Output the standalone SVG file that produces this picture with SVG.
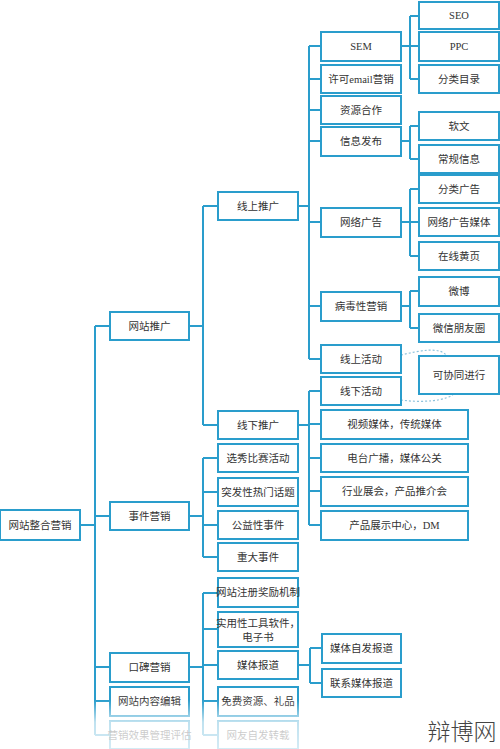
<svg xmlns="http://www.w3.org/2000/svg" width="500" height="749" viewBox="0 0 500 749">
<defs>
<style>
.b{fill:#fff;stroke:#2a9dcc;stroke-width:2}
.t{font-family:"Liberation Serif","Noto Sans CJK SC",sans-serif;font-size:10.5px;fill:#333;text-anchor:middle;dominant-baseline:central}
.c{fill:none;stroke:#2a9dcc;stroke-width:2}
.d{fill:none;stroke:#8fc3dc;stroke-width:1.2;stroke-dasharray:2 2}
</style>
<linearGradient id="fade" x1="0" y1="0" x2="0" y2="1">
<stop offset="0" stop-color="#fff" stop-opacity="0"/>
<stop offset="0.45" stop-color="#fff" stop-opacity="0.7"/>
<stop offset="1" stop-color="#fff" stop-opacity="0.8"/>
</linearGradient>
</defs>
<rect width="500" height="749" fill="#fff"/>
<g id="connectors">
<path class="c" d="M80,525H95M95,326V735M95,326H110M95,516H110M95,667H110M95,701H110M95,735H110"/>
<path class="c" d="M189,326H203M203,206V425M203,206H218M203,425H218"/>
<path class="c" d="M298,206H309M309,46V359M309,46H321M309,79H321M309,110H321M309,141H321M309,222H321M309,306H321M309,359H321"/>
<path class="c" d="M401,46H419M410,16V79M410,16H419M410,79H419"/>
<path class="c" d="M401,141H410M410,126V159M410,126H419M410,159H419"/>
<path class="c" d="M401,222H419M410,189V256M410,189H419M410,256H419"/>
<path class="c" d="M401,306H410M410,291V328M410,291H419M410,328H419"/>
<path class="c" d="M298,425H309M309,391V525M309,391H321M309,424H321M309,458H321M309,491H321M309,525H321"/>
<path class="c" d="M189,516H203M203,458V557M203,458H218M203,492H218M203,525H218M203,557H218"/>
<path class="c" d="M189,667H203M203,593V735M203,593H218M203,629H218M203,665H218M203,701H218M203,735H218"/>
<path class="c" d="M298,665H310M310,648V683M310,648H322M310,683H322"/>
<path class="d" d="M401,355C418,351 440,346 447,356"/>
<path class="d" d="M401,400C422,403 447,401 455,393"/>
</g>
<g id="n-root"><rect class="b" x="0" y="510" width="80" height="30"/><text class="t" x="40" y="525">网站整合营销</text></g>
<g id="n-wztg"><rect class="b" x="110" y="312" width="79" height="28"/><text class="t" x="149.5" y="326">网站推广</text></g>
<g id="n-sjyx"><rect class="b" x="110" y="502" width="79" height="28"/><text class="t" x="149.5" y="516">事件营销</text></g>
<g id="n-kbyx"><rect class="b" x="110" y="653" width="79" height="29"/><text class="t" x="149.5" y="667">口碑营销</text></g>
<g id="n-wznr"><rect class="b" x="110" y="687" width="79" height="29"/><text class="t" x="149.5" y="701">网站内容编辑</text></g>
<g id="n-yxxg"><rect class="b" x="110" y="721" width="79" height="28"/><text class="t" x="149.5" y="735">营销效果管理评估</text></g>
<g id="n-xstg"><rect class="b" x="218" y="192" width="80" height="28"/><text class="t" x="258" y="206">线上推广</text></g>
<g id="n-xxtg"><rect class="b" x="218" y="411" width="80" height="28"/><text class="t" x="258" y="425">线下推广</text></g>
<g id="n-sem"><rect class="b" x="321" y="32" width="80" height="29"/><text class="t" x="361" y="46.5">SEM</text></g>
<g id="n-email"><rect class="b" x="321" y="65" width="80" height="28"/><text class="t" x="361" y="79">许可email营销</text></g>
<g id="n-zyhz"><rect class="b" x="321" y="96" width="80" height="28"/><text class="t" x="361" y="110">资源合作</text></g>
<g id="n-xxfb"><rect class="b" x="321" y="127" width="80" height="29"/><text class="t" x="361" y="141.5">信息发布</text></g>
<g id="n-wlgg"><rect class="b" x="321" y="208" width="80" height="29"/><text class="t" x="361" y="222.5">网络广告</text></g>
<g id="n-bdx"><rect class="b" x="321" y="292" width="80" height="29"/><text class="t" x="361" y="306.5">病毒性营销</text></g>
<g id="n-xshd"><rect class="b" x="321" y="345" width="80" height="28"/><text class="t" x="361" y="359">线上活动</text></g>
<g id="n-xxhd"><rect class="b" x="321" y="377" width="80" height="28"/><text class="t" x="361" y="391">线下活动</text></g>
<g id="n-sp"><rect class="b" x="321" y="410" width="147" height="29"/><text class="t" x="394.5" y="424.5">视频媒体，传统媒体</text></g>
<g id="n-dt"><rect class="b" x="321" y="444" width="147" height="28"/><text class="t" x="394.5" y="458">电台广播，媒体公关</text></g>
<g id="n-hy"><rect class="b" x="321" y="477" width="147" height="29"/><text class="t" x="394.5" y="491.5">行业展会，产品推介会</text></g>
<g id="n-cp"><rect class="b" x="321" y="511" width="147" height="29"/><text class="t" x="394.5" y="525.5">产品展示中心，DM</text></g>
<g id="n-kxt"><rect class="b" x="419" y="356" width="80" height="38"/><text class="t" x="459" y="375">可协同进行</text></g>
<g id="n-seo"><rect class="b" x="419" y="2" width="80" height="27"/><text class="t" x="459" y="15.5">SEO</text></g>
<g id="n-ppc"><rect class="b" x="419" y="32" width="80" height="29"/><text class="t" x="459" y="46.5">PPC</text></g>
<g id="n-flml"><rect class="b" x="419" y="65" width="80" height="28"/><text class="t" x="459" y="79">分类目录</text></g>
<g id="n-rw"><rect class="b" x="419" y="112" width="80" height="28"/><text class="t" x="459" y="126">软文</text></g>
<g id="n-cgxx"><rect class="b" x="419" y="145" width="80" height="28"/><text class="t" x="459" y="159">常规信息</text></g>
<g id="n-flgg"><rect class="b" x="419" y="175" width="80" height="28"/><text class="t" x="459" y="189">分类广告</text></g>
<g id="n-wlggmt"><rect class="b" x="419" y="208" width="80" height="28"/><text class="t" x="459" y="222">网络广告媒体</text></g>
<g id="n-zxhy"><rect class="b" x="419" y="242" width="80" height="28"/><text class="t" x="459" y="256">在线黄页</text></g>
<g id="n-wb"><rect class="b" x="419" y="277" width="80" height="29"/><text class="t" x="459" y="291.5">微博</text></g>
<g id="n-wx"><rect class="b" x="419" y="314" width="80" height="28"/><text class="t" x="459" y="328">微信朋友圈</text></g>
<g id="n-xx"><rect class="b" x="218" y="444" width="80" height="28"/><text class="t" x="258" y="458">选秀比赛活动</text></g>
<g id="n-tf"><rect class="b" x="218" y="478" width="80" height="28"/><text class="t" x="258" y="492">突发性热门话题</text></g>
<g id="n-gy"><rect class="b" x="218" y="511" width="80" height="28"/><text class="t" x="258" y="525">公益性事件</text></g>
<g id="n-zd"><rect class="b" x="218" y="543" width="80" height="28"/><text class="t" x="258" y="557">重大事件</text></g>
<g id="n-zc"><rect class="b" x="218" y="578" width="80" height="29"/><text class="t" x="258" y="592.5">网站注册奖励机制</text></g>
<g id="n-sy"><rect class="b" x="218" y="612" width="80" height="35"/><text class="t" x="258" y="623">实用性工具软件，</text><text class="t" x="258" y="637">电子书</text></g>
<g id="n-mtbd"><rect class="b" x="218" y="651" width="80" height="28"/><text class="t" x="258" y="665">媒体报道</text></g>
<g id="n-mf"><rect class="b" x="218" y="687" width="80" height="29"/><text class="t" x="258" y="701">免费资源、礼品</text></g>
<g id="n-wy"><rect class="b" x="218" y="721" width="80" height="28"/><text class="t" x="258" y="735">网友自发转载</text></g>
<g id="n-zf"><rect class="b" x="322" y="634" width="79" height="29"/><text class="t" x="361.5" y="648.5">媒体自发报道</text></g>
<g id="n-lx"><rect class="b" x="322" y="669" width="79" height="28"/><text class="t" x="361.5" y="683">联系媒体报道</text></g>
<rect x="0" y="700" width="420" height="49" fill="url(#fade)"/>
<text x="462" y="740" font-family="Noto Sans CJK SC,sans-serif" font-size="23" font-weight="300" fill="#444" text-anchor="middle">辩博网</text>
</svg>
